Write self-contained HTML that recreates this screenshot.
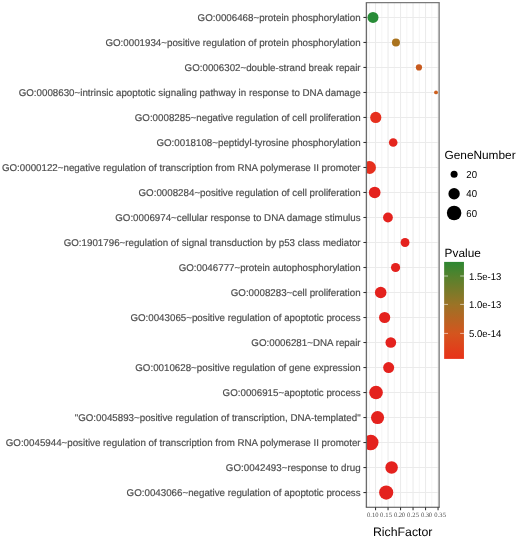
<!DOCTYPE html><html><head><meta charset="utf-8"><style>html,body{margin:0;padding:0;background:#fff;}svg{display:block;filter:blur(0.3px);text-rendering:geometricPrecision;}</style></head><body>
<svg width="520" height="538" viewBox="0 0 520 538">
<rect x="0" y="0" width="520" height="538" fill="#fff"/>
<clipPath id="pc"><rect x="366.40" y="2.70" width="72.75" height="504.55"/></clipPath>
<g clip-path="url(#pc)"><line x1="369.30" y1="2.7" x2="369.30" y2="507.25" stroke="#ebebeb" stroke-width="0.55"/><line x1="381.80" y1="2.7" x2="381.80" y2="507.25" stroke="#ebebeb" stroke-width="0.55"/><line x1="394.30" y1="2.7" x2="394.30" y2="507.25" stroke="#ebebeb" stroke-width="0.55"/><line x1="406.80" y1="2.7" x2="406.80" y2="507.25" stroke="#ebebeb" stroke-width="0.55"/><line x1="419.30" y1="2.7" x2="419.30" y2="507.25" stroke="#ebebeb" stroke-width="0.55"/><line x1="431.80" y1="2.7" x2="431.80" y2="507.25" stroke="#ebebeb" stroke-width="0.55"/><line x1="375.55" y1="2.7" x2="375.55" y2="507.25" stroke="#ebebeb" stroke-width="1.07"/><line x1="388.05" y1="2.7" x2="388.05" y2="507.25" stroke="#ebebeb" stroke-width="1.07"/><line x1="400.55" y1="2.7" x2="400.55" y2="507.25" stroke="#ebebeb" stroke-width="1.07"/><line x1="413.05" y1="2.7" x2="413.05" y2="507.25" stroke="#ebebeb" stroke-width="1.07"/><line x1="425.55" y1="2.7" x2="425.55" y2="507.25" stroke="#ebebeb" stroke-width="1.07"/><line x1="438.05" y1="2.7" x2="438.05" y2="507.25" stroke="#ebebeb" stroke-width="1.07"/><line x1="366.4" y1="17.45" x2="439.15" y2="17.45" stroke="#ebebeb" stroke-width="1.07"/><line x1="366.4" y1="42.45" x2="439.15" y2="42.45" stroke="#ebebeb" stroke-width="1.07"/><line x1="366.4" y1="67.46" x2="439.15" y2="67.46" stroke="#ebebeb" stroke-width="1.07"/><line x1="366.4" y1="92.47" x2="439.15" y2="92.47" stroke="#ebebeb" stroke-width="1.07"/><line x1="366.4" y1="117.47" x2="439.15" y2="117.47" stroke="#ebebeb" stroke-width="1.07"/><line x1="366.4" y1="142.47" x2="439.15" y2="142.47" stroke="#ebebeb" stroke-width="1.07"/><line x1="366.4" y1="167.48" x2="439.15" y2="167.48" stroke="#ebebeb" stroke-width="1.07"/><line x1="366.4" y1="192.48" x2="439.15" y2="192.48" stroke="#ebebeb" stroke-width="1.07"/><line x1="366.4" y1="217.49" x2="439.15" y2="217.49" stroke="#ebebeb" stroke-width="1.07"/><line x1="366.4" y1="242.49" x2="439.15" y2="242.49" stroke="#ebebeb" stroke-width="1.07"/><line x1="366.4" y1="267.50" x2="439.15" y2="267.50" stroke="#ebebeb" stroke-width="1.07"/><line x1="366.4" y1="292.50" x2="439.15" y2="292.50" stroke="#ebebeb" stroke-width="1.07"/><line x1="366.4" y1="317.51" x2="439.15" y2="317.51" stroke="#ebebeb" stroke-width="1.07"/><line x1="366.4" y1="342.51" x2="439.15" y2="342.51" stroke="#ebebeb" stroke-width="1.07"/><line x1="366.4" y1="367.52" x2="439.15" y2="367.52" stroke="#ebebeb" stroke-width="1.07"/><line x1="366.4" y1="392.52" x2="439.15" y2="392.52" stroke="#ebebeb" stroke-width="1.07"/><line x1="366.4" y1="417.53" x2="439.15" y2="417.53" stroke="#ebebeb" stroke-width="1.07"/><line x1="366.4" y1="442.53" x2="439.15" y2="442.53" stroke="#ebebeb" stroke-width="1.07"/><line x1="366.4" y1="467.54" x2="439.15" y2="467.54" stroke="#ebebeb" stroke-width="1.07"/><line x1="366.4" y1="492.54" x2="439.15" y2="492.54" stroke="#ebebeb" stroke-width="1.07"/>
<circle cx="373.0" cy="17.45" r="5.5" fill="#288c37"/>
<circle cx="395.95" cy="42.45" r="4.0" fill="#aa731e"/>
<circle cx="418.95" cy="67.46" r="3.1" fill="#c85a1e"/>
<circle cx="436.0" cy="92.47" r="1.9" fill="#cd5f1e"/>
<circle cx="375.75" cy="117.47" r="5.6" fill="#e6301e"/>
<circle cx="393.2" cy="142.47" r="4.3" fill="#e4261e"/>
<circle cx="369.55" cy="167.48" r="6.4" fill="#e6301e"/>
<circle cx="374.7" cy="192.48" r="5.85" fill="#e4221e"/>
<circle cx="387.95" cy="217.49" r="4.9" fill="#e4221e"/>
<circle cx="405.05" cy="242.49" r="4.45" fill="#e4221e"/>
<circle cx="395.55" cy="267.50" r="4.6" fill="#e4221e"/>
<circle cx="380.7" cy="292.50" r="5.8" fill="#e4221e"/>
<circle cx="384.65" cy="317.51" r="5.6" fill="#e4221e"/>
<circle cx="390.8" cy="342.51" r="5.35" fill="#e4221e"/>
<circle cx="388.65" cy="367.52" r="5.5" fill="#e4221e"/>
<circle cx="376.05" cy="392.52" r="6.8" fill="#e4221e"/>
<circle cx="377.55" cy="417.53" r="6.55" fill="#e4221e"/>
<circle cx="370.7" cy="442.53" r="7.8" fill="#e4221e"/>
<circle cx="391.6" cy="467.54" r="6.25" fill="#e4221e"/>
<circle cx="386.2" cy="492.54" r="7.1" fill="#e4221e"/>
</g>
<line x1="365.79999999999995" y1="2.7" x2="439.75" y2="2.7" stroke="#7a7a7a" stroke-width="1.3"/>
<line x1="366.4" y1="2.7" x2="366.4" y2="507.25" stroke="#6c6c6c" stroke-width="1.35"/>
<line x1="439.15" y1="2.7" x2="439.15" y2="507.25" stroke="#7a7a7a" stroke-width="1.3"/>
<line x1="365.79999999999995" y1="507.25" x2="439.75" y2="507.25" stroke="#4a4a4a" stroke-width="1.2"/>
<line x1="363.40" y1="17.45" x2="366.4" y2="17.45" stroke="#333" stroke-width="1.07"/>
<text x="0" y="20.65" text-anchor="end" font-family="Liberation Sans" font-size="9.85" fill="#4d4d4d" stroke="#4d4d4d" stroke-width="0.18" transform="translate(360.6,0) scale(0.991,1)">GO:0006468~protein phosphorylation</text>
<line x1="363.40" y1="42.45" x2="366.4" y2="42.45" stroke="#333" stroke-width="1.07"/>
<text x="0" y="45.66" text-anchor="end" font-family="Liberation Sans" font-size="9.85" fill="#4d4d4d" stroke="#4d4d4d" stroke-width="0.18" transform="translate(360.6,0) scale(0.991,1)">GO:0001934~positive regulation of protein phosphorylation</text>
<line x1="363.40" y1="67.46" x2="366.4" y2="67.46" stroke="#333" stroke-width="1.07"/>
<text x="0" y="70.66" text-anchor="end" font-family="Liberation Sans" font-size="9.85" fill="#4d4d4d" stroke="#4d4d4d" stroke-width="0.18" transform="translate(360.6,0) scale(0.991,1)">GO:0006302~double-strand break repair</text>
<line x1="363.40" y1="92.47" x2="366.4" y2="92.47" stroke="#333" stroke-width="1.07"/>
<text x="0" y="95.67" text-anchor="end" font-family="Liberation Sans" font-size="9.85" fill="#4d4d4d" stroke="#4d4d4d" stroke-width="0.18" transform="translate(360.6,0) scale(0.991,1)">GO:0008630~intrinsic apoptotic signaling pathway in response to DNA damage</text>
<line x1="363.40" y1="117.47" x2="366.4" y2="117.47" stroke="#333" stroke-width="1.07"/>
<text x="0" y="120.67" text-anchor="end" font-family="Liberation Sans" font-size="9.85" fill="#4d4d4d" stroke="#4d4d4d" stroke-width="0.18" transform="translate(360.6,0) scale(0.991,1)">GO:0008285~negative regulation of cell proliferation</text>
<line x1="363.40" y1="142.47" x2="366.4" y2="142.47" stroke="#333" stroke-width="1.07"/>
<text x="0" y="145.67" text-anchor="end" font-family="Liberation Sans" font-size="9.85" fill="#4d4d4d" stroke="#4d4d4d" stroke-width="0.18" transform="translate(360.6,0) scale(0.991,1)">GO:0018108~peptidyl-tyrosine phosphorylation</text>
<line x1="363.40" y1="167.48" x2="366.4" y2="167.48" stroke="#333" stroke-width="1.07"/>
<text x="0" y="170.68" text-anchor="end" font-family="Liberation Sans" font-size="9.85" fill="#4d4d4d" stroke="#4d4d4d" stroke-width="0.18" transform="translate(360.6,0) scale(0.991,1)">GO:0000122~negative regulation of transcription from RNA polymerase II promoter</text>
<line x1="363.40" y1="192.48" x2="366.4" y2="192.48" stroke="#333" stroke-width="1.07"/>
<text x="0" y="195.68" text-anchor="end" font-family="Liberation Sans" font-size="9.85" fill="#4d4d4d" stroke="#4d4d4d" stroke-width="0.18" transform="translate(360.6,0) scale(0.991,1)">GO:0008284~positive regulation of cell proliferation</text>
<line x1="363.40" y1="217.49" x2="366.4" y2="217.49" stroke="#333" stroke-width="1.07"/>
<text x="0" y="220.69" text-anchor="end" font-family="Liberation Sans" font-size="9.85" fill="#4d4d4d" stroke="#4d4d4d" stroke-width="0.18" transform="translate(360.6,0) scale(0.991,1)">GO:0006974~cellular response to DNA damage stimulus</text>
<line x1="363.40" y1="242.49" x2="366.4" y2="242.49" stroke="#333" stroke-width="1.07"/>
<text x="0" y="245.69" text-anchor="end" font-family="Liberation Sans" font-size="9.85" fill="#4d4d4d" stroke="#4d4d4d" stroke-width="0.18" transform="translate(360.6,0) scale(0.991,1)">GO:1901796~regulation of signal transduction by p53 class mediator</text>
<line x1="363.40" y1="267.50" x2="366.4" y2="267.50" stroke="#333" stroke-width="1.07"/>
<text x="0" y="270.70" text-anchor="end" font-family="Liberation Sans" font-size="9.85" fill="#4d4d4d" stroke="#4d4d4d" stroke-width="0.18" transform="translate(360.6,0) scale(0.991,1)">GO:0046777~protein autophosphorylation</text>
<line x1="363.40" y1="292.50" x2="366.4" y2="292.50" stroke="#333" stroke-width="1.07"/>
<text x="0" y="295.70" text-anchor="end" font-family="Liberation Sans" font-size="9.85" fill="#4d4d4d" stroke="#4d4d4d" stroke-width="0.18" transform="translate(360.6,0) scale(0.991,1)">GO:0008283~cell proliferation</text>
<line x1="363.40" y1="317.51" x2="366.4" y2="317.51" stroke="#333" stroke-width="1.07"/>
<text x="0" y="320.71" text-anchor="end" font-family="Liberation Sans" font-size="9.85" fill="#4d4d4d" stroke="#4d4d4d" stroke-width="0.18" transform="translate(360.6,0) scale(0.991,1)">GO:0043065~positive regulation of apoptotic process</text>
<line x1="363.40" y1="342.51" x2="366.4" y2="342.51" stroke="#333" stroke-width="1.07"/>
<text x="0" y="345.71" text-anchor="end" font-family="Liberation Sans" font-size="9.85" fill="#4d4d4d" stroke="#4d4d4d" stroke-width="0.18" transform="translate(360.6,0) scale(0.991,1)">GO:0006281~DNA repair</text>
<line x1="363.40" y1="367.52" x2="366.4" y2="367.52" stroke="#333" stroke-width="1.07"/>
<text x="0" y="370.72" text-anchor="end" font-family="Liberation Sans" font-size="9.85" fill="#4d4d4d" stroke="#4d4d4d" stroke-width="0.18" transform="translate(360.6,0) scale(0.991,1)">GO:0010628~positive regulation of gene expression</text>
<line x1="363.40" y1="392.52" x2="366.4" y2="392.52" stroke="#333" stroke-width="1.07"/>
<text x="0" y="395.72" text-anchor="end" font-family="Liberation Sans" font-size="9.85" fill="#4d4d4d" stroke="#4d4d4d" stroke-width="0.18" transform="translate(360.6,0) scale(0.991,1)">GO:0006915~apoptotic process</text>
<line x1="363.40" y1="417.53" x2="366.4" y2="417.53" stroke="#333" stroke-width="1.07"/>
<text x="0" y="420.73" text-anchor="end" font-family="Liberation Sans" font-size="9.85" fill="#4d4d4d" stroke="#4d4d4d" stroke-width="0.18" transform="translate(360.6,0) scale(0.991,1)">&quot;GO:0045893~positive regulation of transcription, DNA-templated&quot;</text>
<line x1="363.40" y1="442.53" x2="366.4" y2="442.53" stroke="#333" stroke-width="1.07"/>
<text x="0" y="445.73" text-anchor="end" font-family="Liberation Sans" font-size="9.85" fill="#4d4d4d" stroke="#4d4d4d" stroke-width="0.18" transform="translate(360.6,0) scale(0.991,1)">GO:0045944~positive regulation of transcription from RNA polymerase II promoter</text>
<line x1="363.40" y1="467.54" x2="366.4" y2="467.54" stroke="#333" stroke-width="1.07"/>
<text x="0" y="470.74" text-anchor="end" font-family="Liberation Sans" font-size="9.85" fill="#4d4d4d" stroke="#4d4d4d" stroke-width="0.18" transform="translate(360.6,0) scale(0.991,1)">GO:0042493~response to drug</text>
<line x1="363.40" y1="492.54" x2="366.4" y2="492.54" stroke="#333" stroke-width="1.07"/>
<text x="0" y="495.74" text-anchor="end" font-family="Liberation Sans" font-size="9.85" fill="#4d4d4d" stroke="#4d4d4d" stroke-width="0.18" transform="translate(360.6,0) scale(0.991,1)">GO:0043066~negative regulation of apoptotic process</text>
<line x1="375.55" y1="507.25" x2="375.55" y2="510.25" stroke="#333" stroke-width="1.07"/>
<line x1="388.05" y1="507.25" x2="388.05" y2="510.25" stroke="#333" stroke-width="1.07"/>
<line x1="400.55" y1="507.25" x2="400.55" y2="510.25" stroke="#333" stroke-width="1.07"/>
<line x1="413.05" y1="507.25" x2="413.05" y2="510.25" stroke="#333" stroke-width="1.07"/>
<line x1="425.55" y1="507.25" x2="425.55" y2="510.25" stroke="#333" stroke-width="1.07"/>
<line x1="438.05" y1="507.25" x2="438.05" y2="510.25" stroke="#333" stroke-width="1.07"/>
<text x="367.05" y="516.9" font-family="Liberation Serif" font-size="6.6" fill="#4d4d4d" textLength="11.40" lengthAdjust="spacing">0.10</text>
<text x="380.05" y="516.9" font-family="Liberation Serif" font-size="6.6" fill="#4d4d4d" textLength="12.00" lengthAdjust="spacing">0.15</text>
<text x="394.05" y="516.9" font-family="Liberation Serif" font-size="6.6" fill="#4d4d4d" textLength="11.10" lengthAdjust="spacing">0.20</text>
<text x="407.05" y="516.9" font-family="Liberation Serif" font-size="6.6" fill="#4d4d4d" textLength="12.00" lengthAdjust="spacing">0.25</text>
<text x="421.05" y="516.9" font-family="Liberation Serif" font-size="6.6" fill="#4d4d4d" textLength="11.10" lengthAdjust="spacing">0.30</text>
<text x="434.25" y="516.9" font-family="Liberation Serif" font-size="6.6" fill="#4d4d4d" textLength="11.80" lengthAdjust="spacing">0.35</text>
<text x="402.7" y="535.5" text-anchor="middle" font-family="Liberation Sans" font-size="12.3" fill="#000">RichFactor</text>
<text x="444.5" y="159.4" font-family="Liberation Sans" font-size="11.85" fill="#000">GeneNumber</text>
<circle cx="454.1" cy="174.2" r="3.5" fill="#000"/>
<text x="0" y="177.75" font-family="Liberation Sans" font-size="10.1" fill="#000" transform="translate(466.3,0) scale(0.95,1)">20</text>
<circle cx="454.1" cy="193.7" r="5.7" fill="#000"/>
<text x="0" y="197.25" font-family="Liberation Sans" font-size="10.1" fill="#000" transform="translate(466.3,0) scale(0.95,1)">40</text>
<circle cx="454.1" cy="213.0" r="7.25" fill="#000"/>
<text x="0" y="216.55" font-family="Liberation Sans" font-size="10.1" fill="#000" transform="translate(466.3,0) scale(0.95,1)">60</text>
<text x="444.6" y="256.9" font-family="Liberation Sans" font-size="11.85" fill="#000">Pvalue</text>
<defs><linearGradient id="cg" x1="0" y1="0" x2="0" y2="1">
<stop offset="0" stop-color="rgb(45, 135, 50)"/>
<stop offset="0.15" stop-color="rgb(85, 130, 45)"/>
<stop offset="0.44" stop-color="rgb(155, 115, 38)"/>
<stop offset="0.74" stop-color="rgb(212, 85, 30)"/>
<stop offset="1.0" stop-color="rgb(232, 50, 25)"/>
</linearGradient></defs>
<rect x="444.15" y="261.9" width="19.8" height="97" fill="url(#cg)"/>
<line x1="444.1" y1="276.0" x2="448" y2="276.0" stroke="#fff" stroke-opacity="0.6" stroke-width="1"/>
<line x1="460.2" y1="276.0" x2="464.1" y2="276.0" stroke="#fff" stroke-opacity="0.6" stroke-width="1"/>
<text x="0" y="279.65" font-family="Liberation Sans" font-size="9.95" fill="#000" transform="translate(469.0,0) scale(0.96,1)">1.5e-13</text>
<line x1="444.1" y1="304.4" x2="448" y2="304.4" stroke="#fff" stroke-opacity="0.6" stroke-width="1"/>
<line x1="460.2" y1="304.4" x2="464.1" y2="304.4" stroke="#fff" stroke-opacity="0.6" stroke-width="1"/>
<text x="0" y="308.05" font-family="Liberation Sans" font-size="9.95" fill="#000" transform="translate(469.0,0) scale(0.96,1)">1.0e-13</text>
<line x1="444.1" y1="333.4" x2="448" y2="333.4" stroke="#fff" stroke-opacity="0.6" stroke-width="1"/>
<line x1="460.2" y1="333.4" x2="464.1" y2="333.4" stroke="#fff" stroke-opacity="0.6" stroke-width="1"/>
<text x="0" y="337.05" font-family="Liberation Sans" font-size="9.95" fill="#000" transform="translate(469.0,0) scale(0.96,1)">5.0e-14</text>
</svg></body></html>
